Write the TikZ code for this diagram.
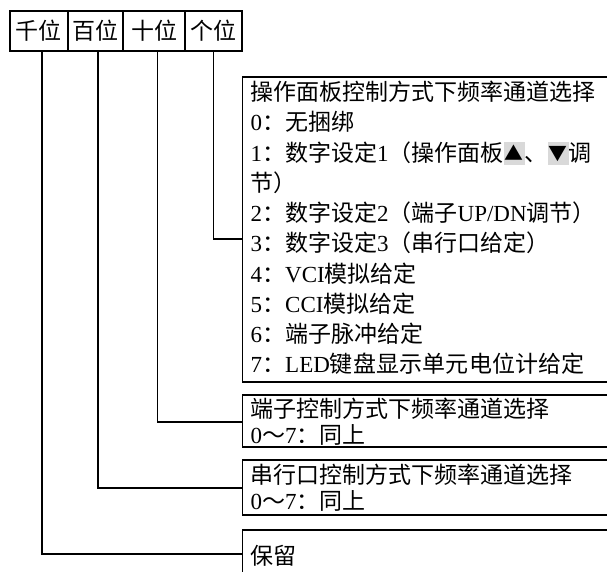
\documentclass[tikz,border=0pt]{standalone}
\usepackage{fontspec}
\setmainfont{Liberation Serif}
\newfontfamily\cjk{Noto Sans CJK SC}
\newcommand\hlbox[1]{{\setlength{\fboxsep}{0pt}\colorbox{gray!30}{\makebox[21pt]{\rule[-4pt]{0pt}{23pt}\raisebox{1pt}{\scalebox{0.82}{#1}}}}}}
\begin{document}
\begin{tikzpicture}[x=1pt,y=1pt,
  cell/.style={draw, line width=1.6pt, minimum height=40pt, inner sep=0pt, outer sep=0pt,
    font=\cjk\fontsize{23}{28}\selectfont},
  frame/.style={draw, line width=1.6pt, inner sep=0pt, outer sep=0pt, anchor=north west},
  txt/.style={anchor=base west, inner sep=0pt, font=\fontsize{23}{28}\selectfont},
  conn/.style={line width=1.5pt}]
\useasboundingbox (0,0) rectangle (607,-572);
% top cells
\node[cell, minimum width=58pt, anchor=north west] (c1) at (10,-11) {千位};
\node[cell, minimum width=55pt, anchor=west] (c2) at (c1.east) {百位};
\node[cell, minimum width=62pt, anchor=west] (c3) at (c2.east) {十位};
\node[cell, minimum width=57pt, anchor=west] (c4) at (c3.east) {个位};
% frames
\node[frame, minimum width=390pt, minimum height=305pt] (b1) at (242.5,-77) {};
\node[frame, minimum width=390pt, minimum height=52pt] (b2) at (242.5,-395) {};
\node[frame, minimum width=390pt, minimum height=55pt] (b3) at (242.5,-460) {};
\node[frame, minimum width=390pt, minimum height=70pt] (b4) at (242.5,-530) {};
% texts of b1
\node[txt] (t0) at (250.5,-101) {{\cjk 操作面板控制方式下频率通道选择}};
\node[txt] (t1) at (250.5,-131) {0{\cjk ：无捆绑}};
\node[txt] (t2) at (250.5,-161) {1{\cjk ：数字设定}1{\cjk （操作面板\hlbox{▲}、\hlbox{▼}调}};
\node[txt] (t3) at (250.5,-191) {{\cjk 节）}};
\node[txt] (t4) at (250.5,-221) {2{\cjk ：数字设定}2{\cjk （端子}UP/DN{\cjk 调节）}};
\node[txt] (t5) at (250.5,-251) {3{\cjk ：数字设定}3{\cjk （串行口给定）}};
\node[txt] (t6) at (250.5,-282) {4{\cjk ：}VCI{\cjk 模拟给定}};
\node[txt] (t7) at (250.5,-312) {5{\cjk ：}CCI{\cjk 模拟给定}};
\node[txt] (t8) at (250.5,-342) {6{\cjk ：端子脉冲给定}};
\node[txt] (t9) at (250.5,-372) {7{\cjk ：}LED\makebox[255pt][s]{\cjk 键\hfil 盘\hfil 显\hfil 示\hfil 单\hfil 元\hfil 电\hfil 位\hfil 计\hfil 给\hfil 定}};
% texts of b2, b3, b4
\node[txt] (u1) at (250.5,-417) {{\cjk 端子控制方式下频率通道选择}};
\node[txt] (u2) at (250.5,-443) {0{\cjk ～}7{\cjk ：同上}};
\node[txt] (v1) at (250.5,-483) {{\cjk 串行口控制方式下频率通道选择}};
\node[txt] (v2) at (250.5,-509) {0{\cjk ～}7{\cjk ：同上}};
\node[txt] (w1) at (250.5,-564) {{\cjk 保留}};
% connectors
\draw[conn] (c4.south) |- ([yshift=-162pt]b1.north west);
\draw[conn] ([xshift=3.5pt]c3.south) |- ([yshift=-27pt]b2.north west);
\draw[conn] ([xshift=2.5pt]c2.south) |- ([yshift=-28pt]b3.north west);
\draw[conn] ([xshift=3pt]c1.south) |- ([yshift=-24pt]b4.north west);
\end{tikzpicture}
\end{document}
